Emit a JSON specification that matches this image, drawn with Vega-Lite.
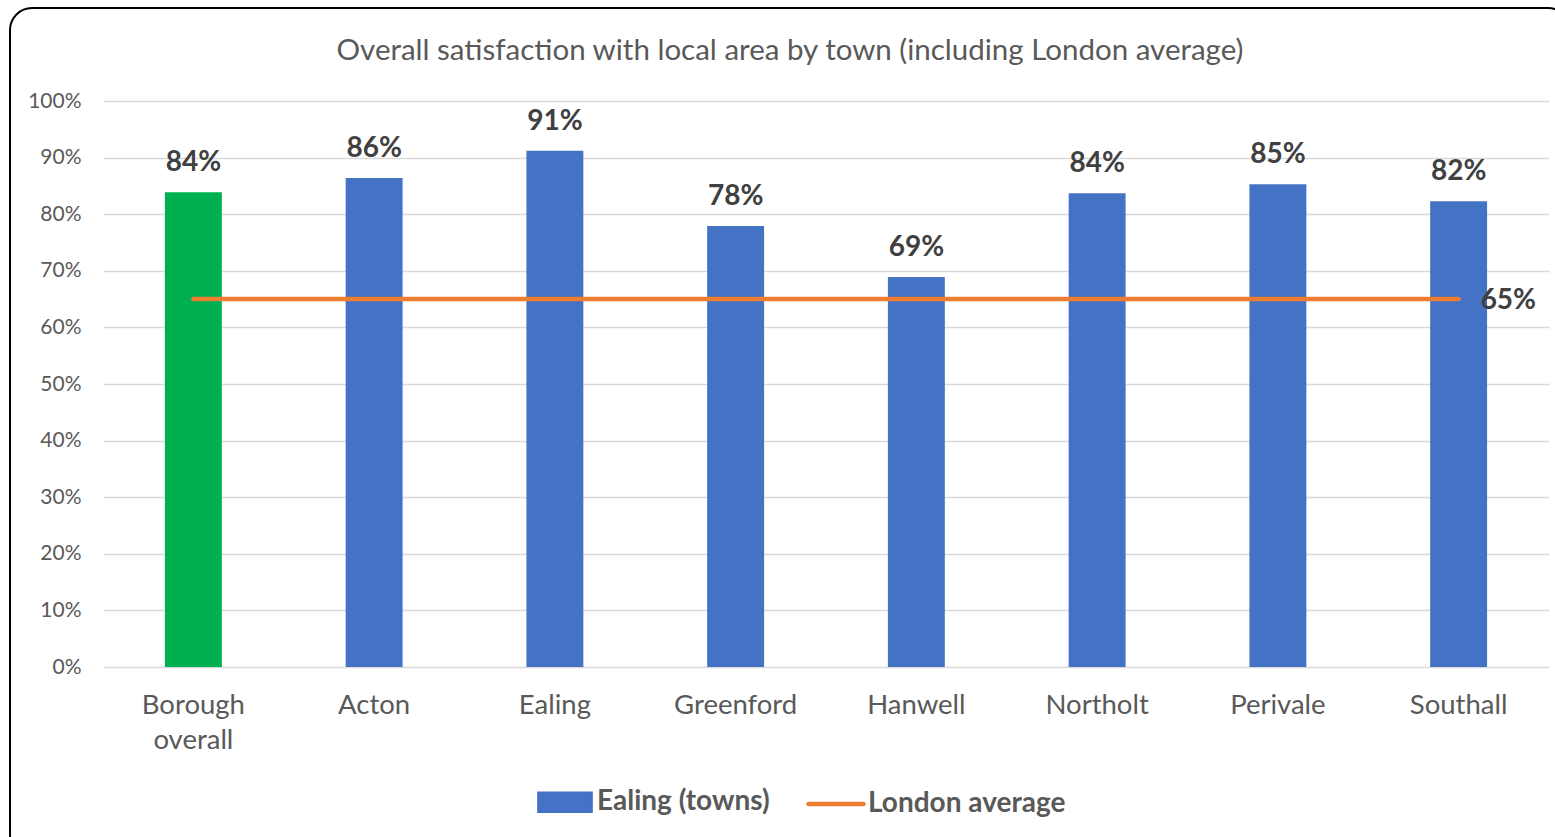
{
  "$schema": "https://vega.github.io/schema/vega-lite/v6.json",
  "autosize": {"type": "none"},
  "padding": {"left": 10, "top": 8, "right": 0, "bottom": 0},
  "width": 1560,
  "height": 850,
  "background": "white",
  "config": {
    "font": "Lato",
    "view": {"stroke": "#000000", "strokeWidth": 2, "cornerRadius": 22, "fill": "white"}
  },
  "title": {
    "text": "Overall satisfaction with local area by town (including London average)",
    "font": "Lato",
    "fontSize": 29.5,
    "fontWeight": "normal",
    "color": "#595959",
    "anchor": "middle",
    "frame": "group",
    "offset": -58
  },
  "data": {
    "values": [
      {"town": "Borough overall", "value": 0.839, "series": "Borough", "london": 0.65, "line": "London average"},
      {"town": "Acton", "value": 0.864, "series": "Ealing (towns)", "london": 0.65, "line": "London average"},
      {"town": "Ealing", "value": 0.912, "series": "Ealing (towns)", "london": 0.65, "line": "London average"},
      {"town": "Greenford", "value": 0.779, "series": "Ealing (towns)", "london": 0.65, "line": "London average"},
      {"town": "Hanwell", "value": 0.689, "series": "Ealing (towns)", "london": 0.65, "line": "London average"},
      {"town": "Northolt", "value": 0.837, "series": "Ealing (towns)", "london": 0.65, "line": "London average"},
      {"town": "Perivale", "value": 0.853, "series": "Ealing (towns)", "london": 0.65, "line": "London average"},
      {"town": "Southall", "value": 0.823, "series": "Ealing (towns)", "london": 0.65, "line": "London average"}
    ]
  },
  "encoding": {
    "x": {
      "field": "town",
      "type": "nominal",
      "sort": null,
      "scale": {"range": [93, 1539], "paddingInner": 0.685, "paddingOuter": 0.3425},
      "axis": {
        "title": null,
        "orient": "bottom",
        "offset": -191,
        "domain": false,
        "ticks": false,
        "tickSize": 0,
        "grid": false,
        "labelAngle": 0,
        "labelFont": "Lato",
        "labelFontSize": 27.5,
        "labelColor": "#595959",
        "labelPadding": 24,
        "labelLineHeight": 35,
        "labelExpr": "datum.value === 'Borough overall' ? ['Borough', 'overall'] : datum.value"
      }
    }
  },
  "layer": [
    {
      "mark": {"type": "bar"},
      "encoding": {
        "y": {
          "field": "value",
          "type": "quantitative",
          "scale": {"domain": [0, 1], "range": [659, 93], "nice": false, "zero": true},
          "axis": {
            "title": null,
            "orient": "left",
            "offset": -79,
            "domain": false,
            "ticks": false,
            "tickSize": 0,
            "labelPadding": 8,
            "values": [0, 0.1, 0.2, 0.3, 0.4, 0.5, 0.6, 0.7, 0.8, 0.9, 1],
            "format": ".0%",
            "labelFont": "Lato",
            "labelFontSize": 21,
            "labelColor": "#595959",
            "grid": true,
            "gridColor": "#d9d9d9",
            "gridWidth": 1.5
          }
        },
        "color": {
          "field": "series",
          "type": "nominal",
          "scale": {
            "domain": ["Ealing (towns)", "London average", "Borough"],
            "range": ["#4472C4", "#ED7D31", "#00B050"]
          },
          "legend": {
            "values": ["Ealing (towns)", "London average"],
            "title": null,
            "orient": "none",
            "legendX": 525,
            "legendY": 764,
            "direction": "horizontal",
            "padding": 0,
            "symbolSize": 3025,
            "symbolType": "stroke",
            "symbolStrokeWidth": 4.5,
            "labelFont": "Lato",
            "labelFontSize": 28,
            "labelFontWeight": "bold",
            "labelColor": "#595959",
            "labelOffset": 2,
            "labelLimit": 0,
            "columnPadding": 29,
            "encode": {
              "symbols": {
                "update": {
                  "shape": {"signal": "datum.value === 'London average' ? 'stroke' : 'M-0.93,-0.31L0.93,-0.31L0.93,0.31L-0.93,0.31Z'"},
                  "fill": {"signal": "datum.value === 'London average' ? 'transparent' : '#4472C4'"},
                  "stroke": {"signal": "datum.value === 'London average' ? '#ED7D31' : 'transparent'"},
                  "strokeWidth": {"value": 4.5},
                  "strokeCap": {"value": "round"},
                  "opacity": {"value": 1}
                }
              }
            }
          }
        }
      }
    },
    {
      "mark": {"type": "text", "baseline": "alphabetic", "dy": -21, "font": "Lato", "fontSize": 28, "fontWeight": "bold", "color": "#404040"},
      "encoding": {
        "y": {"field": "value", "type": "quantitative"},
        "text": {"field": "value", "type": "quantitative", "format": ".0%"}
      }
    },
    {
      "mark": {"type": "line", "strokeWidth": 4.5, "strokeCap": "round"},
      "encoding": {
        "y": {"field": "london", "type": "quantitative"},
        "color": {"field": "line", "type": "nominal"}
      }
    },
    {
      "transform": [{"filter": "datum.town === 'Southall'"}],
      "mark": {"type": "text", "align": "left", "baseline": "middle", "dx": 22, "dy": 2, "font": "Lato", "fontSize": 28, "fontWeight": "bold", "color": "#404040"},
      "encoding": {
        "y": {"field": "london", "type": "quantitative"},
        "text": {"field": "london", "type": "quantitative", "format": ".0%"}
      }
    }
  ]
}
